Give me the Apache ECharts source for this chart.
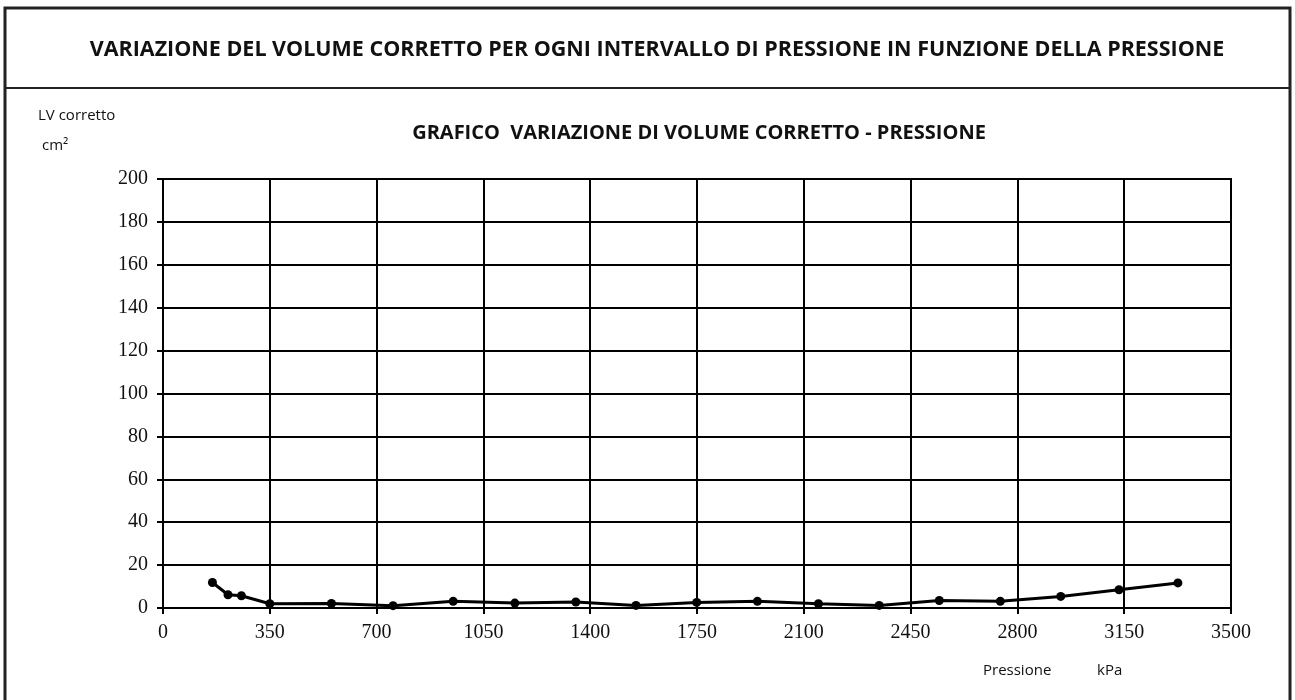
<!DOCTYPE html>
<html>
<head>
<meta charset="utf-8">
<style>
  html, body { margin: 0; padding: 0; background: #fff; }
  #chart { width: 1295px; height: 700px; }
</style>
<script src="https://cdn.jsdelivr.net/npm/echarts@6/dist/echarts.min.js"></script>
</head>
<body>
<div id="chart"></div>
<script>
// Pressure (kPa) and corrected volume change per pressure step (cm³)
const pressure = [162, 213, 257, 350, 552, 754, 951, 1153, 1353, 1550, 1749, 1948, 2148, 2347, 2544, 2744, 2942, 3133, 3326];
const deltaVolume = [11.9, 6.2, 5.7, 2.0, 2.1, 1.1, 3.1, 2.3, 2.8, 1.2, 2.6, 3.1, 2.0, 1.2, 3.5, 3.1, 5.4, 8.5, 11.7];

const xTicks = { min: 0, max: 3500, step: 350 };
const yTicks = { min: 0, max: 200, step: 20 };

const mainTitle = 'VARIAZIONE DEL VOLUME CORRETTO PER OGNI INTERVALLO DI PRESSIONE IN FUNZIONE DELLA PRESSIONE';
const chartTitle = 'GRAFICO  VARIAZIONE DI VOLUME CORRETTO - PRESSIONE';
const yName = ['LV corretto', 'cm\u00b2'];
const xName = ['Pressione', 'kPa'];

const points = pressure.map((p, i) => [p, deltaVolume[i]]);

const chart = echarts.init(document.getElementById('chart'), null, { renderer: 'canvas' });

const serif = '"Liberation Serif", "DejaVu Serif", serif';
const sans = '"Open Sans", "Noto Sans", sans-serif';

chart.setOption({
  animation: false,
  backgroundColor: '#ffffff',
  grid: { left: 163, top: 179, right: 64, bottom: 92, show: true, borderColor: '#000', borderWidth: 2 },
  xAxis: {
    type: 'value',
    min: xTicks.min, max: xTicks.max, interval: xTicks.step,
    axisLine: { show: true, lineStyle: { color: '#000', width: 2 } },
    axisTick: { show: true, inside: false, length: 6, lineStyle: { color: '#000', width: 2 } },
    axisLabel: { color: '#111', fontFamily: serif, fontSize: 20, margin: 15, formatter: v => String(v) },
    splitLine: { show: true, lineStyle: { color: '#000', width: 2 } }
  },
  yAxis: {
    type: 'value',
    min: yTicks.min, max: yTicks.max, interval: yTicks.step,
    axisLine: { show: true, lineStyle: { color: '#000', width: 2 } },
    axisTick: { show: true, inside: false, length: 6, lineStyle: { color: '#000', width: 2 } },
    axisLabel: { color: '#111', fontFamily: serif, fontSize: 20, margin: 15, formatter: v => String(v) },
    splitLine: { show: true, lineStyle: { color: '#000', width: 2 } }
  },
  series: [{
    type: 'line',
    data: points,
    symbol: 'circle',
    symbolSize: 9,
    itemStyle: { color: '#000' },
    lineStyle: { color: '#000', width: 3 },
    clip: false
  }],
  graphic: [
    // outer frame and title separator
    { type: 'rect', shape: { x: 5, y: 8, width: 1285, height: 720 }, style: { fill: null, stroke: '#222', lineWidth: 3 }, silent: true },
    { type: 'line', shape: { x1: 5, y1: 88, x2: 1290, y2: 88 }, style: { stroke: '#222', lineWidth: 2 }, silent: true },
    { type: 'text', x: 657, y: 50, style: { text: mainTitle, font: 'bold 21.5px ' + sans, fill: '#111', align: 'center', verticalAlign: 'middle' } },
    { type: 'text', x: 699, y: 133, style: { text: chartTitle, font: 'bold 20px ' + sans, fill: '#111', align: 'center', verticalAlign: 'middle' } },
    { type: 'text', x: 38, y: 116, style: { text: yName[0], font: '15px ' + sans, fill: '#111', verticalAlign: 'middle' } },
    { type: 'text', x: 42, y: 146, style: { text: yName[1], font: '15px ' + sans, fill: '#111', verticalAlign: 'middle' } },
    { type: 'text', x: 983, y: 671, style: { text: xName[0], font: '15px ' + sans, fill: '#111', verticalAlign: 'middle' } },
    { type: 'text', x: 1097, y: 671, style: { text: xName[1], font: '15px ' + sans, fill: '#111', verticalAlign: 'middle' } }
  ]
});
</script>
</body>
</html>
